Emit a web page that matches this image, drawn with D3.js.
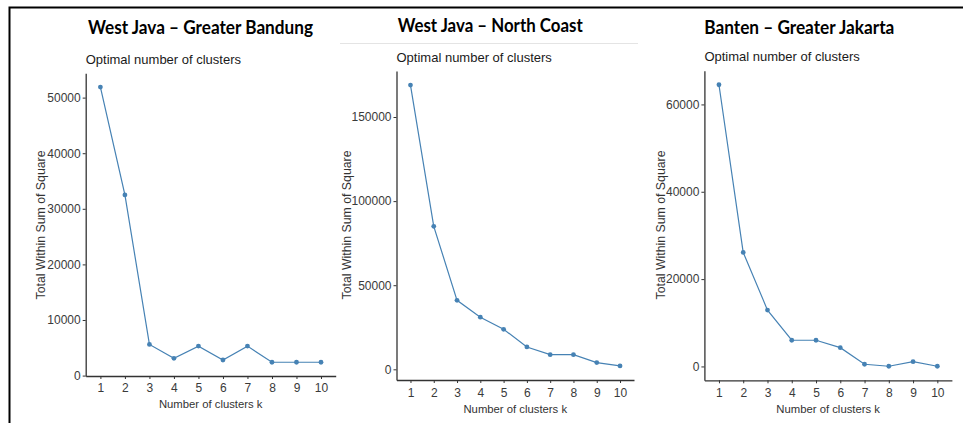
<!DOCTYPE html>
<html>
<head>
<meta charset="utf-8">
<script src="https://cdn.jsdelivr.net/npm/d3@7"></script>
<style>
  body { margin: 0; background: #fff; }
  svg { display: block; }
</style>
</head>
<body>
<script>
// ----------------------------------- DATA --------------------------------------------
var ks = [1, 2, 3, 4, 5, 6, 7, 8, 9, 10]

var regions = ['West Java \u2013 Greater Bandung', 'West Java \u2013 North Coast', 'Banten \u2013 Greater Jakarta']

var bandungWss    = [51900, 32500, 5600, 3100, 5300, 2800, 5300, 2400, 2400, 2400]
var northCoastWss = [169000, 85000, 41000, 31000, 23800, 13300, 8700, 8700, 4000, 2000]
var jakartaWss    = [64500, 26100, 12900, 6000, 6000, 4300, 500, 50, 1100, 50]

var bandungTicks    = [0, 10000, 20000, 30000, 40000, 50000]
var northCoastTicks = [0, 50000, 100000, 150000]
var jakartaTicks    = [0, 20000, 40000, 60000]

var subtitle = 'Optimal number of clusters'
var xTitle = 'Number of clusters k'
var yTitle = 'Total Within Sum of Square'

// ----------------------------------- SVG --------------------------------------------
var width = 963
var height = 423

var svg = d3.select('body')
  .append('svg')
  .attr('width', width)
  .attr('height', height)

svg.append('rect')
  .attr('width', width)
  .attr('height', height)
  .attr('fill', '#fff')

// screenshot frame: left and top edges only
svg.append('path')
  .attr('d', 'M9.5,' + height + ' V7.5 H' + width)
  .attr('fill', 'none')
  .attr('stroke', '#000')
  .attr('stroke-width', 2)

// ----------------------------------- PANELS --------------------------------------------
var panels = [
  {values: bandungWss, ticks: bandungTicks, left: 85.7, right: 335.7, top: 73.3, bottom: 376,
   titleX: 88, titleY: 34.3, titleW: 225, subY: 64.3, xTickY: 392.3, xTitleY: 408, yTitleX: 45.3},
  {values: northCoastWss, ticks: northCoastTicks, left: 396.5, right: 634, top: 71, bottom: 380,
   titleX: 397.7, titleY: 31.7, titleW: 185, subY: 61.7, xTickY: 397.3, xTitleY: 412.7, yTitleX: 351.3},
  {values: jakartaWss, ticks: jakartaTicks, left: 704.4, right: 951.9, top: 70.7, bottom: 380.3,
   titleX: 704.3, titleY: 34.3, titleW: 190, subY: 61, xTickY: 397.3, xTitleY: 412.5, yTitleX: 665.3}
]

// faint rule under the middle title
svg.append('line')
  .attr('x1', 340).attr('x2', 638)
  .attr('y1', 43.5).attr('y2', 43.5)
  .attr('stroke', '#e4e4e4')
  .attr('stroke-width', 1)

panels.forEach(function(p, i){
  var g = svg.append('g')

  var lo = d3.min(p.values), hi = d3.max(p.values)
  var pad = (hi - lo) * 0.05

  var x = d3.scalePoint()
    .domain(ks)
    .range([p.left, p.right])
    .padding(0.6)

  var y = d3.scaleLinear()
    .domain([lo - pad, hi + pad])
    .range([p.bottom, p.top])

  // region title
  g.append('text')
    .attr('x', p.titleX)
    .attr('y', p.titleY)
    .attr('font-family', 'Lato, "Open Sans", sans-serif')
    .attr('font-weight', 'bold')
    .attr('font-size', 19.5)
    .attr('textLength', p.titleW)
    .attr('lengthAdjust', 'spacingAndGlyphs')
    .attr('fill', '#000')
    .text(regions[i])

  // subtitle
  g.append('text')
    .attr('x', p.left)
    .attr('y', p.subY)
    .attr('font-family', '"Liberation Sans", Arial, sans-serif')
    .attr('font-size', 13)
    .attr('fill', '#1a1a1a')
    .text(subtitle)

  // axes
  var xAxis = g.append('g')
    .attr('transform', 'translate(0,' + p.bottom + ')')
    .call(d3.axisBottom(x).tickSize(3).tickPadding(3).tickSizeOuter(0))

  var yAxis = g.append('g')
    .attr('transform', 'translate(' + p.left + ',0)')
    .call(d3.axisLeft(y).tickValues(p.ticks).tickFormat(d3.format('d')).tickSize(3).tickPadding(2).tickSizeOuter(0))

  ;[xAxis, yAxis].forEach(function(a){
    a.select('.domain').attr('stroke', '#333').attr('stroke-width', 1.3)
    a.selectAll('.tick line').attr('stroke', '#333')
    a.selectAll('.tick text')
      .attr('font-family', '"Liberation Sans", Arial, sans-serif')
      .attr('font-size', 12)
      .attr('fill', '#3a3a3a')
  })

  xAxis.selectAll('.tick text')
    .attr('dy', null)
    .attr('y', p.xTickY - p.bottom)

  // axis titles
  g.append('text')
    .attr('x', (p.left + p.right) / 2)
    .attr('y', p.xTitleY)
    .attr('text-anchor', 'middle')
    .attr('font-family', '"Liberation Sans", Arial, sans-serif')
    .attr('font-size', 11.3)
    .attr('fill', '#333')
    .text(xTitle)

  g.append('text')
    .attr('transform', 'translate(' + p.yTitleX + ',' + 225 + ') rotate(-90)')
    .attr('text-anchor', 'middle')
    .attr('font-family', '"Liberation Sans", Arial, sans-serif')
    .attr('font-size', 12.3)
    .attr('fill', '#333')
    .text(yTitle)

  // elbow line + points
  var pts = ks.map(function(k, j){ return {k: k, v: p.values[j]} })

  g.append('path')
    .datum(pts)
    .attr('fill', 'none')
    .attr('stroke', '#4682B4')
    .attr('stroke-width', 1.2)
    .attr('d', d3.line().x(function(d){ return x(d.k) }).y(function(d){ return y(d.v) }))

  g.selectAll('circle')
    .data(pts)
    .enter()
    .append('circle')
    .attr('cx', function(d){ return x(d.k) })
    .attr('cy', function(d){ return y(d.v) })
    .attr('r', 2.4)
    .attr('fill', '#4682B4')
})
</script>
</body>
</html>
